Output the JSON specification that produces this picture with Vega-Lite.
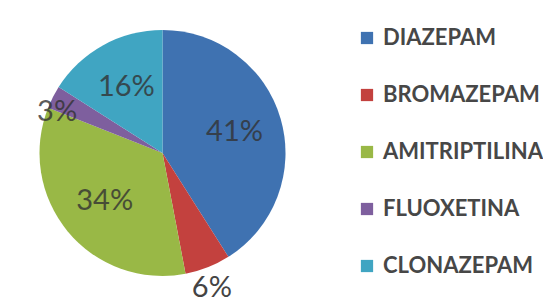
{
  "$schema": "https://vega.github.io/schema/vega-lite/v6.json",
  "width": 325,
  "height": 306,
  "padding": 0,
  "background": "white",
  "config": {"view": {"stroke": null}, "font": "Lato"},
  "data": {
    "values": [
      {"drug": "DIAZEPAM", "value": 41, "idx": 1},
      {"drug": "BROMAZEPAM", "value": 6, "idx": 2},
      {"drug": "AMITRIPTILINA", "value": 34, "idx": 3},
      {"drug": "FLUOXETINA", "value": 3, "idx": 4},
      {"drug": "CLONAZEPAM", "value": 16, "idx": 5}
    ]
  },
  "transform": [
    {"window": [{"op": "sum", "field": "value", "as": "cum"}], "sort": [{"field": "idx"}]},
    {"calculate": "datum.cum - datum.value / 2", "as": "mid"},
    {"calculate": "format(datum.value, 'd') + '%'", "as": "label"}
  ],
  "layer": [
    {
      "mark": {"type": "arc", "outerRadius": 123},
      "encoding": {
        "theta": {"field": "value", "type": "quantitative", "stack": true},
        "order": {"field": "idx", "type": "quantitative"},
        "color": {
          "field": "drug",
          "type": "nominal",
          "sort": ["DIAZEPAM", "BROMAZEPAM", "AMITRIPTILINA", "FLUOXETINA", "CLONAZEPAM"],
          "scale": {
            "domain": ["DIAZEPAM", "BROMAZEPAM", "AMITRIPTILINA", "FLUOXETINA", "CLONAZEPAM"],
            "range": ["#3F72B1", "#C3413E", "#99B846", "#7E5F9E", "#40A5C2"]
          },
          "legend": {
            "title": null,
            "orient": "none",
            "legendX": 356,
            "legendY": 27,
            "symbolType": "square",
            "symbolSize": 150,
            "symbolStrokeWidth": 0,
            "labelFont": "Lato",
            "labelFontSize": 22,
            "labelFontWeight": "bold",
            "labelColor": "#474747",
            "labelOffset": 5,
            "rowPadding": 35,
            "padding": 0,
            "labelLimit": 300
          }
        }
      }
    },
    {
      "transform": [{"filter": "datum.idx != 2 && datum.idx != 4"}],
      "mark": {"type": "text", "radius": 75, "fontSize": 29, "font": "Lato", "color": "#333333", "opacity": 0.8},
      "encoding": {
        "theta": {"field": "mid", "type": "quantitative", "stack": null, "scale": {"domain": [0, 100]}},
        "text": {"field": "label"}
      }
    },
    {
      "transform": [{"filter": "datum.idx == 4"}],
      "mark": {"type": "text", "radius": 116, "dy": 12, "dx": -2, "fontSize": 29, "font": "Lato", "color": "#333333", "opacity": 0.8},
      "encoding": {
        "theta": {"field": "mid", "type": "quantitative", "stack": null, "scale": {"domain": [0, 100]}},
        "text": {"field": "label"}
      }
    },
    {
      "transform": [{"filter": "datum.idx == 2"}],
      "mark": {"type": "text", "radius": 145, "dx": -4, "fontSize": 29, "font": "Lato", "color": "#444444"},
      "encoding": {
        "theta": {"field": "mid", "type": "quantitative", "stack": null, "scale": {"domain": [0, 100]}},
        "text": {"field": "label"}
      }
    }
  ],
  "resolve": {"scale": {"theta": "independent"}}
}
